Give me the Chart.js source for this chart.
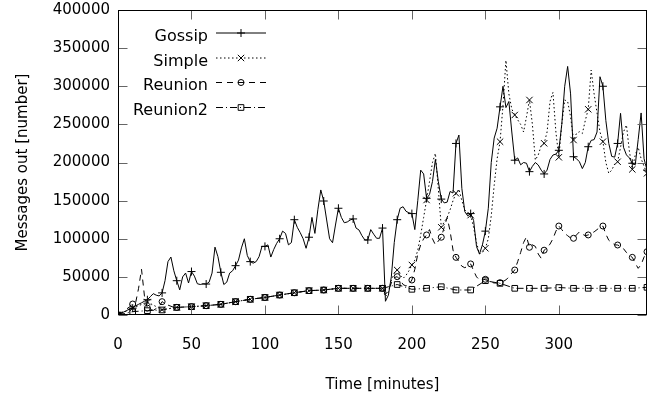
<!DOCTYPE html>
<html>
<head>
<meta charset="utf-8">
<script src="https://cdn.jsdelivr.net/npm/chart.js@4"></script>
<style>
  html, body { margin: 0; padding: 0; background: #fff; }
  #wrap { width: 662px; height: 396px; }
</style>
</head>
<body>
<div id="wrap"><canvas id="chart" width="662" height="396"></canvas></div>
<script>
// Messages out over time, four protocols (gnuplot-style linespoints).

// -- Data ---------------------------------------------------------------------
// Gossip is sampled every 2 minutes.
const minutes = Array.from({ length: 181 }, (_, i) => i * 2);

const gossip = [
  0, 2000, 4000, 6000, 8000, 9000, 12000, 14000, 16000, 18000,
  20000, 24000, 28000, 26000, 25000, 29000, 45000, 70000, 76000, 58000,
  45000, 33000, 50000, 55000, 42000, 57000, 51000, 41000, 40000, 41000,
  40600, 43000, 55000, 89000, 76500, 56000, 40000, 43000, 55000, 58000,
  64700, 72000, 88000, 100000, 78000, 70000, 68000, 70000, 76500, 90000,
  90000, 92000, 76000, 86000, 94000, 100000, 110000, 107000, 92000, 95000,
  125000, 115000, 108000, 100000, 87500, 102000, 128000, 107000, 138000, 164000,
  149500, 124600, 100000, 94800, 118000, 140000, 128000, 121000, 122000, 124600,
  126000, 114000, 111500, 104000, 98400, 98400, 112000, 106000, 100600, 100600,
  114000, 18000, 26000, 50000, 95000, 125000, 140000, 142000, 136000, 134000,
  133000, 112000, 150000, 190000, 185000, 153000, 158000, 175000, 204000, 175000,
  152000, 147000, 148000, 162000, 160000, 225000, 236000, 166000, 135500, 130000,
  133000, 124000, 89600, 80000, 92000, 110000, 140000, 200000, 232000, 245000,
  273000, 300000, 272000, 280000, 240000, 203000, 206000, 197000, 200000, 199000,
  188000, 195000, 200000, 196700, 190000, 185000, 190000, 204000, 209800, 211000,
  216000, 250000, 300000, 326000, 290000, 207600, 205000, 201000, 192000, 200000,
  220700, 229000, 230000, 240000, 312500, 300000, 255000, 225000, 208000, 207000,
  225000, 264500, 220000, 210000, 206000, 199000, 197000, 230000, 265000, 205000,
  190000,
];

// Simple: coarse until 170 min (it sits on the Reunion2 curve), then every 2 min.
const simpleMinutes = [0, 10, 20, 30, 40, 50, 60, 70, 80, 90, 100, 110, 120, 130, 140, 150, 160, 170]
  .concat(minutes.filter((t) => t >= 180));
const simple = [
  0, 9000, 17000, 7000, 10000, 10900, 12200, 14000, 17500, 20600,
  23000, 26200, 29200, 31900, 32800, 35000, 35000, 35000,
  35000, 24000, 30000, 45000, 55000, 59000, 52000, 48000, 52000, 58000,
  65600, 72000, 85000, 105000, 128000, 150800, 175000, 200000, 212000, 165000,
  115000, 122000, 128000, 138000, 150000, 159600, 165000, 150000, 138000, 132000,
  131000, 115000, 95000, 80000, 82000, 87500, 100000, 130000, 170000, 205000,
  227300, 275000, 334000, 290000, 270000, 262300, 256000, 250000, 240000, 260000,
  282000, 250000, 203300, 210000, 222000, 225200, 240000, 280000, 292000, 240000,
  206800, 250000, 282000, 280000, 260000, 229500, 238000, 240400, 238000, 255000,
  269800, 321300, 290000, 265000, 240000, 227300, 200000, 185800, 190000, 198000,
  201000, 220000, 240000, 249200, 215000, 191000, 210000, 220000, 205000, 195000,
  185800,
];

const reunionMinutes = [0, 4, 8, 10, 12, 14, 16, 18, 20, 24, 28, 30, 34, 38,
  40, 50, 60, 70, 80, 90, 100, 110, 120, 130, 140, 150, 160, 170]
  .concat(minutes.filter((t) => t >= 180));
const reunion = [
  0, 5000, 11000, 14400, 16000, 35000, 60000, 25000, 9000, 6000, 11000, 17500, 13000, 10000,
  10000, 10900, 12200, 14000, 17500, 20600, 23000, 26200, 29200, 31900, 32800, 35000, 35000, 35000,
  35000, 27000, 32000, 42000, 49000, 50300, 46000, 40000, 38000, 40000,
  45900, 60000, 80000, 92000, 100000, 105000, 112000, 100000, 92000, 97000,
  102000, 115000, 128000, 110000, 85000, 75600, 70000, 64000, 62000, 64000,
  67000, 58000, 50000, 46000, 46000, 46800, 45000, 43000, 42000, 42000,
  42400, 44000, 46000, 50000, 55000, 59000, 70000, 82000, 95000, 102700,
  88800, 92000, 90000, 80000, 74300, 85000, 88000, 93000, 100000, 110000,
  116700, 112000, 107000, 104000, 101000, 100600, 105000, 109000, 106000, 104000,
  105000, 107000, 109000, 112000, 115000, 116700, 106000, 98000, 95000, 92000,
  91800, 90000, 87000, 82000, 78000, 75600, 68000, 61200, 66000, 76000,
  83000,
];

// Reunion2 is sampled every 10 minutes.
const reunion2Minutes = Array.from({ length: 37 }, (_, i) => i * 10);
const reunion2 = [
  0, 4400, 5700, 6600, 10000, 10900, 12200, 14000, 17500, 20600,
  23000, 26200, 29200, 31900, 32800, 35000, 35000, 35000, 35000, 40000,
  33700, 35000, 37100, 32800, 32800, 45000, 41500, 35000, 35000, 35000,
  36000, 35000, 35000, 35000, 35000, 35000, 36300,
];

const seriesNames = ['Gossip', 'Simple', 'Reunion', 'Reunion2'];
const xTitle = 'Time [minutes]';
const yTitle = 'Messages out [number]';

// -- Styling ------------------------------------------------------------------
const FONT = "'DejaVu Sans', sans-serif";
Chart.defaults.font.family = FONT;
Chart.defaults.color = '#000';

const styles = [
  { dash: [], pointStyle: 'cross', radius: 4 },
  { dash: [1.5, 2.5], pointStyle: 'crossRot', radius: 4.5 },
  { dash: [6, 5], pointStyle: 'circle', radius: 3 },
  { dash: [7, 3, 1, 3], pointStyle: 'rect', radius: 4 },
];

const toPoints = (xs, ys) => xs.map((x, i) => ({ x, y: ys[i] }));

// Mark every 10th minute, as gnuplot's pointinterval did.
const markerRadius = (r) => (ctx) => (ctx.raw && ctx.raw.x % 10 === 0 ? r : 0);

const seriesData = [
  toPoints(minutes, gossip),
  toPoints(simpleMinutes, simple),
  toPoints(reunionMinutes, reunion),
  toPoints(reunion2Minutes, reunion2),
];

// -- Plugins ------------------------------------------------------------------
// Box round the plot with inward ticks on all four sides.
const framePlugin = {
  id: 'frame',
  afterDatasetsDraw(chart) {
    const { ctx, chartArea: a, scales } = chart;
    const L = Math.round(a.left) + 0.5;
    const R = Math.round(a.right) - 0.5;
    const T = Math.round(a.top) + 0.5;
    const B = Math.round(a.bottom) - 0.5;
    ctx.save();
    ctx.lineWidth = 1;
    ctx.strokeStyle = '#666';
    ctx.beginPath();
    for (const t of scales.x.ticks) {
      const px = Math.round(scales.x.getPixelForValue(t.value)) + 0.5;
      ctx.moveTo(px, B); ctx.lineTo(px, B - 9);
      ctx.moveTo(px, T); ctx.lineTo(px, T + 9);
    }
    for (const t of scales.y.ticks) {
      const py = Math.round(scales.y.getPixelForValue(t.value)) + 0.5;
      ctx.moveTo(L, py); ctx.lineTo(L + 9, py);
      ctx.moveTo(R, py); ctx.lineTo(R - 9, py);
    }
    ctx.stroke();
    ctx.strokeStyle = '#000';
    ctx.strokeRect(L, T, R - L, B - T);
    ctx.restore();
  },
};

// Key in the top left: right-aligned names, sample line to their right.
const keyPlugin = {
  id: 'key',
  afterDraw(chart) {
    const ctx = chart.ctx;
    const textRight = 208;
    const lineLeft = 216;
    const lineRight = 266;
    const rowY = [32.5, 57.5, 82, 107];
    ctx.save();
    ctx.font = `16px ${FONT}`;
    ctx.textAlign = 'right';
    ctx.textBaseline = 'middle';
    ctx.fillStyle = '#000';
    seriesNames.forEach((name, i) => {
      const y = rowY[i];
      const s = styles[i];
      ctx.fillText(name, textRight, y + 4);
      ctx.strokeStyle = '#000';
      ctx.lineWidth = 1;
      ctx.setLineDash(s.dash);
      ctx.beginPath();
      ctx.moveTo(lineLeft, y + 0.5);
      ctx.lineTo(lineRight, y + 0.5);
      ctx.stroke();
      ctx.setLineDash([]);
      ctx.fillStyle = 'rgba(0,0,0,0)';
      Chart.helpers.drawPoint(ctx, {
        pointStyle: s.pointStyle, radius: s.radius, rotation: 0, borderWidth: 1,
      }, (lineLeft + lineRight) / 2, y + 0.5);
      ctx.fillStyle = '#000';
    });
    ctx.restore();
  },
};

// -- Chart --------------------------------------------------------------------
new Chart(document.getElementById('chart'), {
  type: 'line',
  data: {
    datasets: seriesNames.map((name, i) => ({
      label: name,
      data: seriesData[i],
      borderColor: '#000',
      borderWidth: 1,
      borderDash: styles[i].dash,
      tension: 0,
      fill: false,
      pointStyle: styles[i].pointStyle,
      pointRadius: markerRadius(styles[i].radius),
      pointHoverRadius: 0,
      pointBorderColor: '#000',
      pointBorderWidth: 1,
      pointBackgroundColor: 'rgba(0,0,0,0)',
    })),
  },
  options: {
    responsive: false,
    animation: false,
    events: [],
    layout: { padding: { left: 0, right: 15, top: 10, bottom: 0 } },
    plugins: { legend: { display: false }, tooltip: { enabled: false } },
    scales: {
      x: {
        type: 'linear',
        min: 0,
        max: 360,
        afterBuildTicks: (s) => { s.ticks = s.ticks.filter((t) => t.value % 50 === 0); },
        // fixed box so the plot area lands where the original's did
        afterFit: (s) => { s.height = 81; s.paddingLeft = 0; s.paddingRight = 0; },
        grid: { display: false, drawTicks: false },
        border: { display: false },
        ticks: {
          stepSize: 50, padding: 21, maxRotation: 0, autoSkip: false,
          color: '#000', font: { size: 15 },
        },
        title: {
          display: true, text: xTitle, color: '#000',
          font: { size: 15 }, padding: { top: 0, bottom: 2 },
        },
      },
      y: {
        min: 0,
        max: 400000,
        afterFit: (s) => { s.width = 118; s.paddingTop = 0; s.paddingBottom = 0; },
        grid: { display: false, drawTicks: false },
        border: { display: false },
        ticks: {
          stepSize: 50000, padding: 8, color: '#000', font: { size: 15 },
          callback: (v) => String(v),
        },
        title: {
          display: true, text: yTitle, color: '#000',
          font: { size: 15 }, padding: { top: 14, bottom: 0 },
        },
      },
    },
  },
  plugins: [framePlugin, keyPlugin],
});
</script>
</body>
</html>
